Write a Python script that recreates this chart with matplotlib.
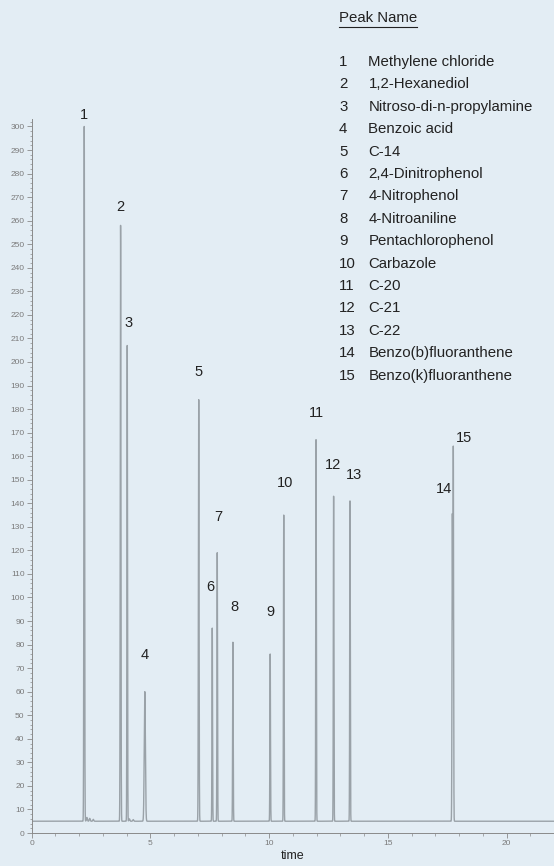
import numpy as np
import matplotlib
matplotlib.use("Agg")
from matplotlib import pyplot as plt
from matplotlib.lines import Line2D
from matplotlib.ticker import MultipleLocator

plt.rcParams['font.family'] = ['Liberation Sans', 'DejaVu Sans']

# peak table
peak_no = [1, 2, 3, 4, 5, 6, 7, 8, 9, 10, 11, 12, 13, 14, 15]
peak_names = ["Methylene chloride", "1,2-Hexanediol", "Nitroso-di-n-propylamine",
              "Benzoic acid", "C-14", "2,4-Dinitrophenol", "4-Nitrophenol",
              "4-Nitroaniline", "Pentachlorophenol", "Carbazole", "C-20", "C-21",
              "C-22", "Benzo(b)fluoranthene", "Benzo(k)fluoranthene"]
peak_time = [2.22, 3.75, 4.03, 4.77, 7.04, 7.61, 7.82, 8.48, 10.05, 10.62,
             11.98, 12.72, 13.41, 17.72, 17.76]
peak_height = [295, 253, 202, 55, 179, 82, 114, 76, 71, 130,
               162, 138, 136, 130, 157]
peak_width = [0.014, 0.014, 0.012, 0.024, 0.014, 0.012, 0.012, 0.012, 0.012, 0.012,
              0.012, 0.012, 0.012, 0.014, 0.012]

# small bumps on the baseline
bump_time = [2.33, 2.45, 2.6, 4.12, 4.28]
bump_height = [1.6, 1.2, 0.8, 1.0, 0.7]
baseline = 5.0

# label positions (time, response)
label_x = [2.21, 3.73, 4.10, 4.77, 7.04, 7.54, 7.88, 8.56, 10.05, 10.69,
           12.01, 12.70, 13.56, 17.37, 18.22]
label_y = [305, 266, 216.7, 75.6, 195.9, 104.6, 134.3, 96, 94, 148.5,
           178.5, 156.3, 152, 146, 167.9]

t = np.linspace(0, 22, 44001)
signal = np.full_like(t, baseline)
for tp, h, w in zip(peak_time, peak_height, peak_width):
    signal += h * np.exp(-0.5 * ((t - tp) / w) ** 2)
for tp, h in zip(bump_time, bump_height):
    signal += h * np.exp(-0.5 * ((t - tp) / 0.02) ** 2)

bg = '#e3edf4'
fig = plt.figure(figsize=(5.54, 8.66), dpi=100, facecolor=bg)
ax = fig.add_axes([0.0569, 0.0381, 0.9431, 0.824])
ax.set_facecolor(bg)

ax.plot(t, signal, color='#9aa2a8', lw=1.0)

for n, lx, ly in zip(peak_no, label_x, label_y):
    ax.text(lx, ly, str(n), ha='center', va='center', fontsize=10.5, color='#222222')

ax.set_xlim(0, 22)
ax.set_ylim(0, 303)
ax.xaxis.set_major_locator(MultipleLocator(5))
ax.xaxis.set_minor_locator(MultipleLocator(1))
ax.yaxis.set_major_locator(MultipleLocator(10))
ax.yaxis.set_minor_locator(MultipleLocator(2))
ax.tick_params(which='major', length=3.5, width=0.6, color='#8a8a8a',
               labelsize=6, labelcolor='#7a7a7a', pad=1.5)
ax.tick_params(which='minor', length=1.8, width=0.5, color='#8a8a8a')
for s in ['top', 'right']:
    ax.spines[s].set_visible(False)
for s in ['left', 'bottom']:
    ax.spines[s].set_color('#8a8a8a')
    ax.spines[s].set_linewidth(0.7)

ax.set_xlabel('time', fontsize=9, color='#222222', labelpad=2)

# peak name list
H = 866.0
hdr = fig.text(339 / 554, 1 - 18 / H, 'Peak Name', fontsize=10.8, color='#222222',
               ha='left', va='center')
for i, (n, name) in enumerate(zip(peak_no, peak_names)):
    y = 1 - (62 + i * 22.4) / H
    fig.text(339 / 554, y, str(n), fontsize=10.8, color='#222222', ha='left', va='center')
    fig.text(368.5 / 554, y, name, fontsize=10.8, color='#222222', ha='left', va='center')

fig.canvas.draw()
bb = hdr.get_window_extent().transformed(fig.transFigure.inverted())
fig.add_artist(Line2D([bb.x0, bb.x1], [bb.y0 - 0.002, bb.y0 - 0.002],
                      transform=fig.transFigure, color='#222222', lw=0.8))

fig.savefig('out.png', dpi=100, facecolor=bg)
